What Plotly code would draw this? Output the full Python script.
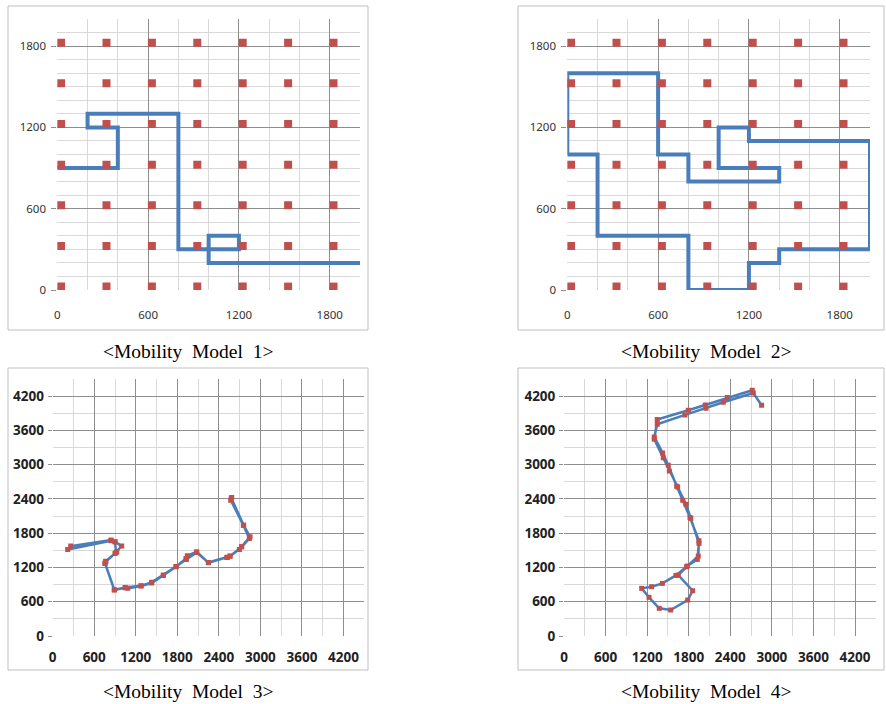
import plotly.graph_objects as go

# ---------------- data ----------------
# sensor grid (panels 1 & 2)
sensor_x = [25, 325, 625, 925, 1225, 1525, 1825]
sensor_y = [25, 325, 625, 925, 1225, 1525, 1825]

# Mobility model 1 path
m1_x = [0, 400, 400, 200, 200, 800, 800, 1200, 1200, 1000, 1000, 2000]
m1_y = [900, 900, 1200, 1200, 1300, 1300, 300, 300, 400, 400, 200, 200]

# Mobility model 2 path
m2_x = [0, 0, 600, 600, 800, 800, 1400, 1400, 1000, 1000, 1200, 1200, 2000, 2000,
        1400, 1400, 1200, 1200, 800, 800, 200, 200, 0]
m2_y = [1000, 1600, 1600, 1000, 1000, 800, 800, 900, 900, 1200, 1200, 1100, 1100, 300,
        300, 200, 200, 0, 0, 400, 400, 1000, 1000]

# Mobility model 3 path (out and back)
m3_x = [2586, 2572, 2754, 2841, 2731, 2697, 2562, 2514, 2249, 2080, 1945, 1926, 1782,
        1598, 1430, 1276, 1084, 1045, 890, 756, 766, 900, 925, 997, 900, 842, 217,
        260, 842, 900, 916, 766, 756, 890, 1050, 1276, 1430, 1598, 1782, 1930, 2080,
        2249, 2528, 2562, 2726, 2851, 2759, 2580]
m3_y = [2426, 2379, 1941, 1708, 1562, 1516, 1399, 1376, 1282, 1474, 1404, 1359, 1212,
        1061, 927, 874, 834, 845, 805, 1271, 1300, 1446, 1475, 1574, 1650, 1667, 1516,
        1574, 1680, 1650, 1463, 1311, 1276, 812, 850, 880, 939, 1067, 1218, 1340, 1463,
        1288, 1381, 1398, 1561, 1737, 1939, 2416]

# Mobility model 4 path (out and back)
m4_x = [2852, 2732, 2299, 2049, 1746, 1346, 1303, 1424, 1505, 1626, 1713, 1818, 1948,
        1938, 1770, 1649, 1857, 1785, 1540, 1375, 1227, 1121, 1265, 1419, 1616, 1780,
        1924, 1948, 1830, 1760, 1640, 1520, 1433, 1303, 1346, 1794, 2039, 2357, 2717]
m4_y = [4040, 4256, 4093, 3988, 3871, 3708, 3486, 3206, 2991, 2624, 2379, 2076, 1667,
        1399, 1212, 1067, 792, 630, 455, 484, 677, 834, 863, 921, 1061, 1225, 1341,
        1621, 2060, 2309, 2610, 2891, 3119, 3446, 3790, 3953, 4046, 4175, 4303]

captions = ["&lt;Mobility  Model  1&gt;", "&lt;Mobility  Model  2&gt;",
            "&lt;Mobility  Model  3&gt;", "&lt;Mobility  Model  4&gt;"]

# ---------------- figure ----------------
W, H = 886, 704
BLUE = "#4A7EBB"
RED = "#C0504D"
MAJOR = "#8E8E8E"
MINOR = "#D9D9D9"

gx = [x for y in sensor_y for x in sensor_x]
gy = [y for y in sensor_y for x in sensor_x]

fig = go.Figure()

# panel 1
fig.add_trace(go.Scatter(x=m1_x, y=m1_y, mode="lines", line=dict(color=BLUE, width=4),
                         xaxis="x", yaxis="y", showlegend=False))
fig.add_trace(go.Scatter(x=gx, y=gy, mode="markers",
                         marker=dict(symbol="square", size=8, color=RED),
                         xaxis="x", yaxis="y", showlegend=False))
# panel 2
fig.add_trace(go.Scatter(x=m2_x, y=m2_y, mode="lines", line=dict(color=BLUE, width=4),
                         xaxis="x2", yaxis="y2", showlegend=False))
fig.add_trace(go.Scatter(x=gx, y=gy, mode="markers",
                         marker=dict(symbol="square", size=8, color=RED),
                         xaxis="x2", yaxis="y2", showlegend=False))
# panel 3
fig.add_trace(go.Scatter(x=m3_x, y=m3_y, mode="lines+markers",
                         line=dict(color=BLUE, width=2.5),
                         marker=dict(symbol="square", size=5, color=RED),
                         xaxis="x3", yaxis="y3", showlegend=False))
# panel 4
fig.add_trace(go.Scatter(x=m4_x, y=m4_y, mode="lines+markers",
                         line=dict(color=BLUE, width=2.5),
                         marker=dict(symbol="square", size=5, color=RED),
                         xaxis="x4", yaxis="y4", showlegend=False))


def px_dom(a, b, total):
    return [a / total, b / total]


def py_dom(top, bottom):
    return [1 - bottom / H, 1 - top / H]


top_font = dict(family="Noto Sans, sans-serif", size=11.5, color="#333333")
bot_font = dict(family="Noto Sans, sans-serif", size=13.5, color="#222222", weight="bold")


def axis(domain, rng, dtick, minor, font, anchor, standoff, ticklen):
    return dict(domain=domain, range=rng, dtick=dtick, tick0=0, automargin=False,
                showgrid=True, gridcolor=MAJOR, gridwidth=1,
                minor=dict(dtick=minor, tick0=0, showgrid=True, gridcolor=MINOR, gridwidth=1),
                zeroline=False, showline=False, ticks="outside", ticklen=ticklen,
                tickcolor=MAJOR, tickfont=font, anchor=anchor, fixedrange=True,
                ticklabelstandoff=standoff)


layout = dict(
    width=W, height=H, margin=dict(l=0, r=0, t=0, b=0, autoexpand=False),
    paper_bgcolor="white", plot_bgcolor="white",
    xaxis=axis(px_dom(57.3, 360, W), [0, 2000], 600, 200, top_font, "y", 14, 0),
    yaxis=axis(py_dom(19, 290), [0, 2000], 600, 100, top_font, "x", 3, 5),
    xaxis2=axis(px_dom(567.3, 870, W), [0, 2000], 600, 200, top_font, "y2", 14, 0),
    yaxis2=axis(py_dom(19, 290), [0, 2000], 600, 100, top_font, "x2", 3, 5),
    xaxis3=axis(px_dom(52.7, 364.2, W), [0, 4500], 600, 300, bot_font, "y3", 9, 0),
    yaxis3=axis(py_dom(379, 636), [0, 4500], 600, 300, bot_font, "x3", 1, 4),
    xaxis4=axis(px_dom(564, 875.8, W), [0, 4500], 600, 300, bot_font, "y4", 9, 0),
    yaxis4=axis(py_dom(379, 636), [0, 4500], 600, 300, bot_font, "x4", 1, 4),
)
fig.update_layout(**layout)

# panel borders
boxes = [(8, 6, 368, 330), (518, 6, 884, 330), (8, 368, 368, 670), (518, 368, 884, 670)]
for (x0, y0, x1, y1) in boxes:
    fig.add_shape(type="rect", xref="paper", yref="paper",
                  x0=x0 / W, x1=x1 / W, y0=1 - y1 / H, y1=1 - y0 / H,
                  line=dict(color="#BFBFBF", width=1), fillcolor="rgba(0,0,0,0)", layer="below")

# captions
cap_pos = [(188, 351), (706, 351), (188, 691), (706, 691)]
for text, (cx, cy) in zip(captions, cap_pos):
    fig.add_annotation(text=text, xref="paper", yref="paper", x=cx / W, y=1 - cy / H,
                       xanchor="center", yanchor="middle", showarrow=False,
                       font=dict(family="Liberation Serif, Times New Roman, serif",
                                 size=19.5, color="black"))

fig.write_html("out.html", config={"displayModeBar": False},
               post_script="document.body.style.margin='0';document.body.style.overflow='hidden';")
